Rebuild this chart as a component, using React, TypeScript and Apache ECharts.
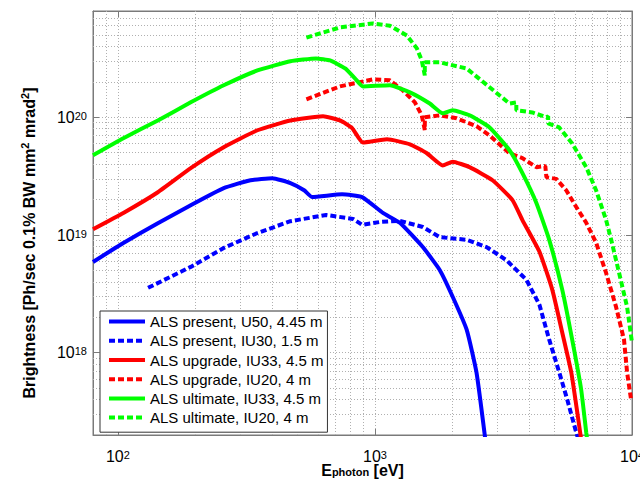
import React, { useEffect, useRef } from 'react';
import * as echarts from 'echarts';

const FONT = '"Liberation Sans", Arial, Helvetica, sans-serif';

// [photon energy (eV), brightness]
const alsPresentU50: [number, number][] = [
  [80, 5.9e18], [105, 8.55e18], [143, 1.26e19], [192, 1.79e19], [258, 2.5e19],
  [328, 2.92e19], [399, 3.04e19], [469, 2.76e19], [530, 2.4e19], [570, 2.1e19],
  [745, 2.22e19], [891, 2.1e19], [1074, 1.54e19], [1250, 1.27e19], [1535, 7.9e18],
  [1786, 5.05e18], [2006, 2.99e18], [2274, 1.57e18], [2483, 6.8e17], [2690, 1.8e17],
];
const alsPresentIU30: [number, number][] = [
  [131, 3.56e18], [192, 5.36e18], [258, 7.76e18], [349, 1.04e19], [469, 1.31e19],
  [646, 1.48e19], [822, 1.37e19], [891, 1.22e19], [1045, 1.29e19], [1250, 1.32e19],
  [1535, 1.17e19], [1786, 9.6e18], [2274, 9.1e18], [2718, 7.9e18], [3251, 6.1e18],
  [3884, 4.16e18], [4365, 2.55e18], [4764, 1.29e18], [5212, 6.8e17], [5598, 4.0e17],
  [6070, 2.1e17], [6200, 1.8e17],
];
const alsUpgradeIU33: [number, number][] = [
  [80, 1.12e19], [105, 1.54e19], [143, 2.31e19], [192, 3.7e19], [258, 5.57e19],
  [349, 7.76e19], [469, 9.4e19], [628, 1.02e20], [731, 9.4e19], [815, 8.1e19],
  [898, 6.1e19], [1114, 6.5e19], [1368, 5.9e19], [1592, 4.95e19], [1837, 3.9e19],
  [2006, 4.2e19], [2333, 3.77e19], [2866, 2.92e19], [3428, 1.98e19], [3747, 1.34e19],
  [4365, 7.2e18], [4898, 3.42e18], [5355, 1.48e18], [5804, 6.8e17], [6127, 3.1e17],
  [6285, 2.1e17], [6350, 1.8e17],
];
const alsUpgradeIU20: [number, number][] = [
  [541, 1.42e20], [731, 1.83e20], [981, 2.1e20], [1143, 2.06e20], [1285, 1.69e20],
  [1430, 1.34e20], [1521, 1.04e20], [1563, 7.8e19], [1563, 1.0e20], [1786, 1.04e20],
  [2080, 9.8e19], [2483, 8.4e19], [2793, 7.0e19], [3337, 4.95e19], [3747, 4.5e19],
  [4246, 3.77e19], [4600, 3.85e19], [4645, 3.1e19], [5075, 3.0e19], [5547, 2.4e19],
  [6070, 1.73e19], [6637, 1.27e19], [7250, 8.6e18], [7930, 4.76e18], [8670, 2.45e18],
  [9310, 1.29e18], [9570, 6.8e17], [9900, 4.1e17],
];
const alsUltimateIU33: [number, number][] = [
  [80, 4.76e19], [105, 6.64e19], [143, 9.4e19], [192, 1.34e20], [258, 1.87e20],
  [349, 2.5e20], [469, 2.99e20], [590, 3.16e20], [669, 3.04e20], [766, 2.6e20],
  [836, 2.14e20], [898, 1.83e20], [1143, 1.87e20], [1368, 1.63e20], [1634, 1.31e20],
  [1837, 1.08e20], [2006, 1.15e20], [2333, 1.04e20], [2793, 8.2e19], [3337, 5.25e19],
  [3747, 3.35e19], [4246, 1.87e19], [4764, 9.1e18], [5355, 3.42e18], [5852, 1.29e18],
  [6343, 4.85e17], [6637, 2.1e17], [6700, 1.8e17],
];
const alsUltimateIU20: [number, number][] = [
  [541, 4.76e20], [731, 5.8e20], [981, 6.27e20], [1143, 6.0e20], [1331, 4.95e20],
  [1456, 3.85e20], [1521, 3.04e20], [1563, 2.27e20], [1563, 2.93e20], [1786, 2.93e20],
  [2274, 2.6e20], [2793, 1.8e20], [3337, 1.31e20], [3548, 1.34e20], [3548, 1.15e20],
  [4095, 1.1e20], [4645, 1.0e20], [4720, 1.02e20], [4720, 8.9e19], [5212, 8.2e19],
  [5852, 6.0e19], [6637, 3.77e19], [7250, 2.4e19], [7930, 1.34e19], [8300, 9.1e18],
  [8910, 4.76e18], [9570, 2.45e18], [10000, 1.22e18],
];

const seriesNames = [
  'ALS present, U50, 4.45 m',
  'ALS present, IU30, 1.5 m',
  'ALS upgrade, IU33, 4.5 m',
  'ALS upgrade, IU20, 4 m',
  'ALS ultimate, IU33, 4.5 m',
  'ALS ultimate, IU20, 4 m',
];
const seriesData = [alsPresentU50, alsPresentIU30, alsUpgradeIU33, alsUpgradeIU20, alsUltimateIU33, alsUltimateIU20];
const seriesColors = ['#0000ff', '#0000ff', '#ff0000', '#ff0000', '#00ff00', '#00ff00'];
const seriesDashed = [false, true, false, true, false, true];

const xRange = [80, 10000];
const yRange = [2e17, 8e20];
const xDecades = [1, 2, 3];
const yDecades = [17, 18, 19, 20];

const GRID_COLOR = '#b0b0b0';
const FRAME_COLOR = '#7a7a7a';

function minorValues(decades: number[], lo: number, hi: number): number[] {
  const out: number[] = [];
  decades.forEach((d) => {
    for (let k = 2; k <= 9; k++) {
      const v = k * Math.pow(10, d);
      if (v > lo && v < hi) out.push(v);
    }
  });
  return out;
}

const powLabel = (v: number) => {
  const e = Math.log10(v);
  const r = Math.round(e);
  if (Math.abs(e - r) > 1e-6) return '';
  return `{b|10}{s|${r}}`;
};

const tickRich = {
  b: { fontSize: 16, fontFamily: FONT, color: '#000', lineHeight: 14 },
  s: { fontSize: 11, fontFamily: FONT, color: '#000', verticalAlign: 'top', lineHeight: 2 },
};

export default function App() {
  const ref = useRef<HTMLDivElement>(null);
  useEffect(() => {
    document.body.style.margin = '0';
    const chart = echarts.init(ref.current!, null, { renderer: 'svg' });
    const gridLine = { color: GRID_COLOR, type: [1, 2] as number[], width: 1 };
    const minorMarks = [
      ...minorValues(xDecades, xRange[0], xRange[1]).map((v) => ({ xAxis: v })),
      ...minorValues(yDecades, yRange[0], yRange[1]).map((v) => ({ yAxis: v })),
    ];
    const series: any[] = seriesNames.map((name, i) => ({
      name,
      type: 'line',
      xAxisIndex: 0,
      yAxisIndex: 0,
      data: seriesData[i],
      symbol: 'none',
      smooth: seriesDashed[i] ? false : 0.15,
      lineStyle: {
        width: 4,
        color: seriesColors[i],
        type: seriesDashed[i] ? [6, 3] : 'solid',
        cap: 'butt',
      },
      itemStyle: { color: seriesColors[i] },
      emphasis: { disabled: true },
      z: 3,
    }));
    series.push({
      name: 'minor-grid',
      type: 'line',
      data: [],
      symbol: 'none',
      silent: true,
      markLine: {
        silent: true,
        z: 1,
        symbol: ['none', 'none'],
        label: { show: false },
        lineStyle: gridLine,
        emphasis: { disabled: true },
        animation: false,
        data: minorMarks,
      },
    });
    const baseX = {
      type: 'log',
      logBase: 10,
      min: xRange[0],
      max: xRange[1],
      axisLine: { show: true, lineStyle: { color: FRAME_COLOR, width: 1 } },
      axisTick: { show: true, inside: true, length: 6, lineStyle: { color: FRAME_COLOR } },
    };
    const baseY = {
      type: 'log',
      logBase: 10,
      min: yRange[0],
      max: yRange[1],
      axisLine: { show: true, lineStyle: { color: FRAME_COLOR, width: 1 } },
      axisTick: { show: true, inside: true, length: 6, lineStyle: { color: FRAME_COLOR } },
    };
    chart.setOption({
      animation: false,
      backgroundColor: '#fff',
      grid: {
        left: 93, right: 8, top: 11, bottom: 47,
        containLabel: false,
        outerBoundsMode: 'none',
        show: true, borderColor: FRAME_COLOR, borderWidth: 1, backgroundColor: '#fff',
      },
      legend: {
        data: seriesNames,
        orient: 'vertical',
        left: 100,
        top: 311,
        itemWidth: 36,
        itemHeight: 4,
        itemGap: 0,
        padding: [1, 4, 5, 7],
        backgroundColor: '#fff',
        borderColor: '#333',
        borderWidth: 1,
        selectedMode: false,
        lineStyle: { width: 4 },
        itemStyle: { opacity: 0 },
        textStyle: { fontSize: 15, fontFamily: FONT, color: '#000', lineHeight: 19.2 },
      },
      xAxis: [
        {
          ...baseX,
          position: 'bottom',
          name: '{b|E}{sub|photon}{b| [eV]}',
          nameLocation: 'middle',
          nameGap: 28,
          nameMoveOverlap: false,
          nameTextStyle: {
            rich: {
              b: { fontSize: 16, fontWeight: 'bold', fontFamily: FONT, color: '#000', lineHeight: 14 },
              sub: { fontSize: 11, fontWeight: 'bold', fontFamily: FONT, color: '#000', verticalAlign: 'bottom', lineHeight: 4 },
            },
          },
          axisLabel: { show: true, margin: 14, formatter: powLabel, rich: tickRich },
          splitLine: { show: true, lineStyle: gridLine },
        },
        {
          ...baseX,
          position: 'top',
          axisLabel: { show: false },
          splitLine: { show: false },
        },
      ],
      yAxis: [
        {
          ...baseY,
          position: 'left',
          name: '{b|Brightness [Ph/sec 0.1% BW mm}{s|2}{b| mrad}{s|2}{b|]}',
          nameLocation: 'middle',
          nameGap: 54,
          nameMoveOverlap: false,
          nameTextStyle: {
            padding: [0, 40, 0, 0],
            rich: {
              b: { fontSize: 16, fontWeight: 'bold', fontFamily: FONT, color: '#000', lineHeight: 20 },
              s: { fontSize: 11, fontWeight: 'bold', fontFamily: FONT, color: '#000', verticalAlign: 'top', lineHeight: 9 },
            },
          },
          axisLabel: { show: true, margin: 6, formatter: powLabel, rich: tickRich },
          splitLine: { show: true, lineStyle: gridLine },
        },
        {
          ...baseY,
          position: 'right',
          axisLabel: { show: false },
          splitLine: { show: false },
        },
      ],
      series,
    });
    return () => chart.dispose();
  }, []);
  return <div ref={ref} style={{ position: 'absolute', left: 0, top: 0, width: 640, height: 482 }} />;
}
